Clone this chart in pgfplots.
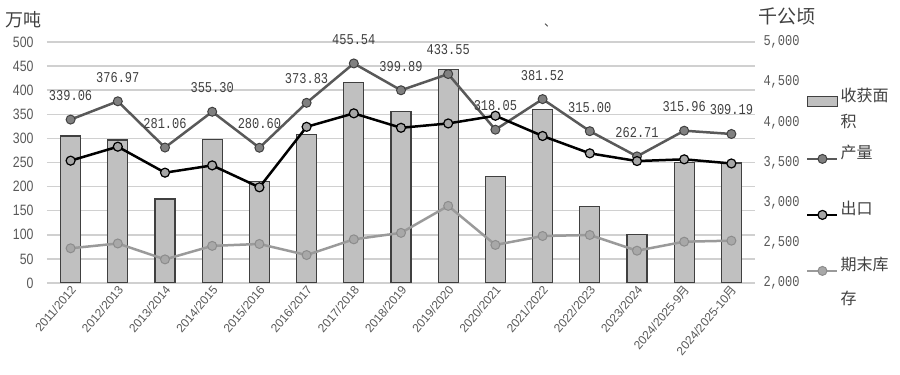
\documentclass[border=0pt]{standalone}
\usepackage{pgfplots}
\pgfplotsset{compat=1.18}
\usepackage{fontspec}
\setmainfont{Liberation Sans}
\newfontfamily\cjk{Noto Sans CJK SC}
\newfontfamily\tickfont[FakeStretch=0.82]{Liberation Sans}
\newfontfamily\labfont[FakeStretch=0.8]{Liberation Mono}
\definecolor{gridc}{HTML}{D0D0D0}
\definecolor{txt}{HTML}{404040}
\definecolor{tick}{HTML}{595959}
\definecolor{barf}{HTML}{C0C0C0}
\definecolor{bard}{HTML}{404040}
\definecolor{prodl}{HTML}{595959}
\definecolor{prodm}{HTML}{808080}
\definecolor{expm}{HTML}{A6A6A6}
\definecolor{stkl}{HTML}{9A9A9A}
\definecolor{stkm}{HTML}{A8A8A8}
\definecolor{stkd}{HTML}{8C8C8C}
\pgfplotsset{lineleg/.style={legend image code/.code={\draw[##1, mark repeat=2, mark phase=2] plot coordinates {(0pt,0pt) (15pt,0pt) (30pt,0pt)};}}}
\begin{document}
\begin{tikzpicture}
% axis 1: left scale, grid and labels
\begin{axis}[name=ax, scale only axis, width=708pt, height=241pt,
  xmin=-0.5, xmax=14.5, ymin=0, ymax=500,
  ytick={0,50,...,500}, ymajorgrids,
  grid style={gridc, line width=1.5pt},
  axis line style={draw=none}, major tick length=0pt,
  axis x line*=bottom, axis y line*=left,
  /pgf/number format/assume math mode=true,
  yticklabel style={font=\tickfont\fontsize{15}{15}\selectfont, text=tick, xshift=-10pt},
  xtick={0,...,14},
  xticklabels={2011/2012,2012/2013,2013/2014,2014/2015,2015/2016,2016/2017,2017/2018,2018/2019,2019/2020,2020/2021,2021/2022,2022/2023,2023/2024,{2024/2025-9{\cjk 月}},{2024/2025-10{\cjk 月}}},
  xticklabel style={font=\fontsize{12}{12}\selectfont, text=tick, rotate=50, anchor=east, yshift=-5pt, xshift=2pt},
]
\end{axis}
% axis 2: right scale, bars
\begin{axis}[scale only axis, width=708pt, height=241pt,
  xmin=-0.5, xmax=14.5, ymin=2000, ymax=5000,
  axis y line*=right, axis x line=none,
  y axis line style={draw=none}, major tick length=0pt,
  ytick={2000,2500,...,5000},
  yticklabels={{2,000},{2,500},{3,000},{3,500},{4,000},{4,500},{5,000}},
  yticklabel style={font=\labfont\fontsize{15}{15}\selectfont, text=tick, xshift=5pt},
  ybar, bar width=20pt,
]
\addplot[fill=barf, draw=bard, line width=1.2pt] coordinates {
(0,3830) (1,3780) (2,3045) (3,3790) (4,3260) (5,3850) (6,4495) (7,4130)
(8,4660) (9,3325) (10,4155) (11,2950) (12,2605) (13,3500) (14,3495)};
\end{axis}
% axis 3: lines
\begin{axis}[scale only axis, width=708pt, height=241pt,
  xmin=-0.5, xmax=14.5, ymin=0, ymax=500,
  axis lines=none, xtick=\empty, ytick=\empty, clip=false,
  legend style={at={(1,1)}, anchor=north west, xshift=48pt, yshift=-52pt,
    draw=none, fill=none, font=\cjk\fontsize{16}{26}\selectfont, text=txt,
    row sep=47pt},
  legend cell align=left,
]
\addlegendimage{legend image code/.code={\draw[fill=barf, draw=bard, line width=1.2pt] (0pt,-5pt) rectangle (30pt,5pt);}}
\addlegendentry{\smash{\begin{tabular}[t]{@{}l@{}}收获面\\积\end{tabular}}}
\addplot[prodl, line width=2.5pt, mark=*, mark size=4.5pt,
  mark options={fill=prodm, draw=bard, line width=1pt},
  nodes near coords, point meta=explicit symbolic,
  every node near coord/.append style={font=\labfont\fontsize{15}{15}\selectfont, text=txt, anchor=center, yshift=24pt},
  lineleg]
coordinates {
(0,339.06) [339.06] (1,376.97) [376.97] (2,281.06) [281.06] (3,355.30) [355.30]
(4,280.60) [280.60] (5,373.83) [373.83] (6,455.54) [455.54] (7,399.89) [399.89]
(8,433.55) [433.55] (9,318.05) [318.05] (10,381.52) [381.52] (11,315.00) [315.00]
(12,262.71) [262.71] (13,315.96) [315.96] (14,309.19) [309.19]};
\addlegendentry{\smash{产量}}
\addplot[black, line width=2.5pt, mark=*, mark size=4.5pt,
  mark options={fill=expm, draw=black, line width=1.2pt}, lineleg]
coordinates {
(0,253.8) (1,282.8) (2,228.9) (3,244) (4,198.5) (5,324) (6,352) (7,322)
(8,331) (9,347) (10,305) (11,269) (12,253) (13,256.6) (14,248)};
\addlegendentry{\smash{出口}}
\addplot[stkl, line width=2.5pt, mark=*, mark size=4.5pt,
  mark options={fill=stkm, draw=stkd, line width=1pt}, lineleg]
coordinates {
(0,72) (1,82) (2,49) (3,77) (4,81) (5,58) (6,90.6) (7,104)
(8,160) (9,79) (10,97.5) (11,99.6) (12,67) (13,85.7) (14,87.8)};
\addlegendentry{\smash{\begin{tabular}[t]{@{}l@{}}期末库\\[8pt]存\end{tabular}}}
\end{axis}
\node[anchor=west, text=txt, font=\cjk\fontsize{18}{18}\selectfont] at ([shift={(-45pt,22pt)}]ax.north west) {万吨};
\node[anchor=west, text=txt, font=\cjk\fontsize{19}{19}\selectfont] at ([shift={(0pt,26pt)}]ax.north east) {千公顷};
\node[text=txt, font=\cjk\fontsize{12}{12}\selectfont] at ([shift={(503pt,17pt)}]ax.north west) {、};
\pgfresetboundingbox
\path (ax.south west) ++(-47pt,-92pt) rectangle ++(900pt,375pt);
\end{tikzpicture}
\end{document}
